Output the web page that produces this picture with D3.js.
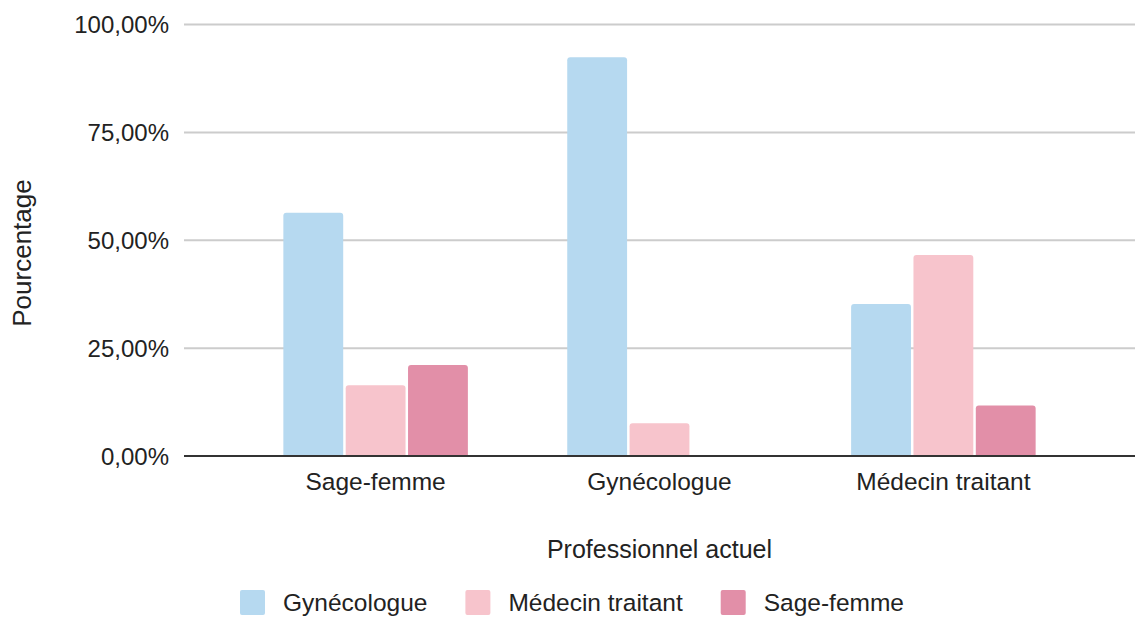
<!DOCTYPE html>
<html>
<head>
<meta charset="utf-8">
<script src="https://cdn.jsdelivr.net/npm/d3@7"></script>
<style>
  body { margin: 0; background: #fff; }
  text { font-family: "Liberation Sans", Arial, sans-serif; fill: #222; }
</style>
</head>
<body>
<div id="chart"></div>
<script>
// Data
const groups = ["Sage-femme", "Gynécologue", "Médecin traitant"];
const series = ["Gynécologue", "Médecin traitant", "Sage-femme"];
const gynecologue = [56.4, 92.4, 35.2];
const medecinTraitant = [16.4, 7.6, 46.6];
const sageFemme = [21.1, 0, 11.7];
const yTicks = [0, 25, 50, 75, 100];

const colors = ["#b6d9f0", "#f7c4cc", "#e28fa8"];
const values = [gynecologue, medecinTraitant, sageFemme];

const width = 1135,
    height = 617;
const plot = { left: 184, right: 1135, top: 24.5, bottom: 456 };

const svg = d3.select("#chart")
    .append("svg")
    .attr("width", width)
    .attr("height", height);

// French number format: comma as decimal separator
const fr = d3.formatLocale({ decimal: ",", thousands: " ", grouping: [3], currency: ["", " €"] });
const tickFormat = d => fr.format(".2f")(d) + "%";

const x0 = d3.scaleBand()
    .domain(groups)
    .range([plot.left, plot.right])
    .padding(0.35);

const x1 = d3.scaleBand()
    .domain(series)
    .range([0, x0.bandwidth()])
    .paddingInner(0.04);

const y = d3.scaleLinear()
    .domain([0, 100])
    .range([plot.bottom, plot.top]);

// Gridlines
svg.append("g")
    .selectAll("line")
    .data(yTicks.filter(d => d > 0))
    .enter()
    .append("line")
    .attr("x1", plot.left)
    .attr("x2", plot.right)
    .attr("y1", d => y(d))
    .attr("y2", d => y(d))
    .attr("stroke", "#cccccc")
    .attr("stroke-width", 2);

// Y tick labels
svg.append("g")
    .selectAll("text")
    .data(yTicks)
    .enter()
    .append("text")
    .attr("x", 169)
    .attr("y", d => y(d))
    .attr("dy", "0.36em")
    .attr("text-anchor", "end")
    .style("font-size", "24px")
    .text(tickFormat);

// Rounded-top bar path
function barPath(x, top, w, bottom, r) {
    const h = bottom - top;
    if (h <= 0) return "";
    r = Math.min(r, h, w / 2);
    return "M" + x + "," + bottom +
        "V" + (top + r) +
        "Q" + x + "," + top + " " + (x + r) + "," + top +
        "H" + (x + w - r) +
        "Q" + (x + w) + "," + top + " " + (x + w) + "," + (top + r) +
        "V" + bottom + "Z";
}

// Bars
const barData = [];
groups.forEach((g, gi) => {
    series.forEach((s, si) => {
        barData.push({ group: g, series: s, si: si, value: values[si][gi] });
    });
});

svg.append("g")
    .selectAll("path")
    .data(barData)
    .enter()
    .append("path")
    .attr("d", d => barPath(x0(d.group) + x1(d.series), y(d.value), x1.bandwidth(), y(0), 3))
    .attr("fill", d => colors[d.si]);

// Baseline
svg.append("line")
    .attr("x1", plot.left)
    .attr("x2", plot.right)
    .attr("y1", y(0))
    .attr("y2", y(0))
    .attr("stroke", "#333333")
    .attr("stroke-width", 2);

// Category labels
svg.append("g")
    .selectAll("text")
    .data(groups)
    .enter()
    .append("text")
    .attr("x", d => x0(d) + x0.bandwidth() / 2)
    .attr("y", 490)
    .attr("text-anchor", "middle")
    .style("font-size", "24.5px")
    .text(d => d);

// Axis titles
svg.append("text")
    .attr("x", (plot.left + plot.right) / 2)
    .attr("y", 558)
    .attr("text-anchor", "middle")
    .style("font-size", "25px")
    .text("Professionnel actuel");

svg.append("text")
    .attr("transform", "translate(31,253) rotate(-90)")
    .attr("text-anchor", "middle")
    .style("font-size", "26px")
    .text("Pourcentage");

// Legend
const legend = svg.append("g");
let lx = 240;
series.forEach((s, i) => {
    legend.append("rect")
        .attr("x", lx)
        .attr("y", 590)
        .attr("width", 25)
        .attr("height", 25)
        .attr("rx", 2)
        .attr("fill", colors[i]);
    const t = legend.append("text")
        .attr("x", lx + 43)
        .attr("y", 611)
        .style("font-size", "24.5px")
        .text(s);
    lx = lx + 43 + t.node().getComputedTextLength() + 38;
});
</script>
</body>
</html>
